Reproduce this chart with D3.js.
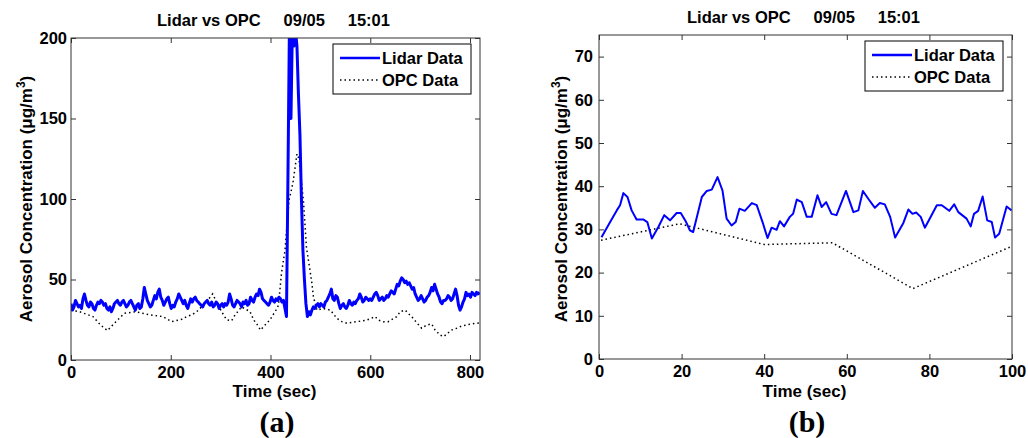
<!DOCTYPE html>
<html>
<head>
<meta charset="utf-8">
<script src="https://cdn.jsdelivr.net/npm/d3@7"></script>
<style>
  body { margin: 0; background: #fff; }
  svg { display: block; }
  text { font-family: Arial, "Liberation Sans", sans-serif; font-weight: bold; fill: #000; }
  .tick text { font-size: 16.5px; }
  .caption { font-family: "Times New Roman", "Liberation Serif", serif; font-size: 30px; }
</style>
</head>
<body>
<svg id="chart" width="1028" height="438"></svg>
<script>
// ---- panel (a): full run, lidar sampled every 3 sec ----
var lidarStepA = 3;
var lidarA = [
  35, 31, 33, 37, 35, 33, 34, 32, 38, 41,
  37, 34, 33, 36, 35, 32, 31, 34, 36, 35,
  37, 36, 34, 35, 32, 31, 33, 30, 32, 35,
  36, 37, 35, 34, 36, 37, 35, 33, 34, 36,
  37, 35, 33, 31, 34, 35, 32, 33, 38, 45,
  41, 37, 35, 33, 34, 37, 40, 38, 42, 44,
  39, 37, 34, 36, 38, 39, 35, 32, 34, 33,
  36, 38, 41, 39, 37, 35, 37, 34, 32, 35,
  38, 36, 38, 39, 37, 36, 35, 34, 33, 35,
  36, 37, 35, 34, 36, 33, 34, 36, 35, 32,
  34, 35, 33, 35, 34, 36, 41, 38, 34, 33,
  35, 37, 36, 35, 33, 36, 35, 37, 34, 35,
  39, 37, 36, 39, 41, 40, 44, 42, 38, 37,
  36, 35, 34, 36, 39, 37, 36, 38, 37, 39,
  38, 36, 37, 32, 27, 115, 210, 150, 210, 195,
  205, 195, 165, 140, 100, 68, 50, 35, 27, 30,
  28, 31, 33, 32, 34, 35, 33, 35, 34, 33,
  36, 37, 39, 41, 44, 38, 37, 40, 39, 35,
  32, 34, 35, 33, 32, 34, 37, 35, 34, 36,
  35, 37, 38, 41, 39, 36, 37, 39, 38, 37,
  38, 37, 39, 41, 42, 40, 37, 38, 39, 37,
  38, 40, 39, 41, 43, 42, 41, 44, 47, 46,
  49, 51, 50, 48, 49, 47, 48, 46, 44, 45,
  41, 39, 37, 38, 40, 38, 36, 37, 39, 40,
  42, 45, 43, 47, 44, 41, 39, 36, 35, 37,
  37, 38, 40, 39, 37, 38, 41, 44, 40, 34,
  31, 33, 36, 38, 42, 40, 41, 39, 42, 41,
  40, 42, 41, 42
];
var opcTimeA = [0, 17, 44, 60, 73, 90, 107, 130, 158, 184, 202, 222, 232, 242, 252, 265, 279, 284, 292,
  302, 312, 322, 329, 342, 359, 366, 374, 380, 389, 399, 411, 416, 422, 429, 437, 445, 453, 457,
  466, 472, 479, 483, 486, 493, 506, 520, 533, 543, 553, 573, 593, 610, 616, 626, 636, 653, 660,
  670, 676, 686, 693, 703, 713, 723, 730, 740, 747, 763, 773, 783, 803, 813, 820];
var opcValA = [31, 30, 27, 21.5, 18.3, 23.8, 29, 30, 28, 27, 23.8, 25.3, 27, 28, 30, 34, 39, 41, 36,
  30, 25, 24.4, 28, 33, 30, 25, 21.7, 18.6, 21.7, 25, 31, 34, 54, 68, 99, 110, 128, 125,
  99, 70, 56, 47.6, 39.3, 31, 32, 31, 25.9, 23.8, 22.8, 23.8, 24.8, 26.9, 24.8, 23.8, 23.8, 26.9, 30,
  31, 29, 25.9, 23.2, 19.7, 21.7, 22.4, 18.6, 15.5, 14.5, 18.6, 19.7, 21.1, 22.4, 22.8, 23];

// ---- panel (b): first 100 sec ----
var lidarTimeB = [0.6, 2.7, 4.3, 5.1, 5.9, 6.9, 7.9, 9.1, 10.7, 11.7, 12.8, 14.4, 15.8, 17.2, 18.8, 19.8,
  21.1, 22.0, 22.8, 24.9, 26.1, 27.3, 28.7, 29.9, 30.9, 32.1, 33.1, 34.0, 35.3, 37.0, 38.2, 39.6,
  40.8, 41.8, 43.0, 43.8, 44.8, 46.2, 47.0, 47.9, 49.1, 50.3, 51.5, 52.9, 53.9, 55.0, 56.3, 57.5,
  59.8, 61.6, 62.8, 63.9, 65.2, 66.8, 68.0, 69.2, 70.5, 71.7, 73.7, 74.9, 75.9, 76.8, 77.9, 78.9,
  80.1, 81.8, 83.0, 84.8, 86.0, 87.0, 89.0, 90.0, 90.8, 91.8, 92.9, 94.0, 95.1, 95.9, 96.9, 98.7, 99.9];
var lidarValB = [28.2, 31.7, 34.4, 35.6, 38.4, 37.5, 34.4, 32.3, 32.3, 31.7, 27.9, 30.6, 33.3, 32.1, 33.8, 33.8,
  31.7, 29.8, 29.4, 37.5, 38.9, 39.2, 42.1, 39.0, 32.5, 30.9, 31.7, 34.8, 34.3, 36.1, 35.6, 31.7,
  28.0, 30.4, 29.9, 31.9, 30.7, 32.9, 33.6, 36.9, 36.3, 32.9, 32.9, 37.9, 35.2, 36.3, 33.6, 33.3,
  38.9, 34.0, 34.4, 38.9, 37.1, 35.0, 36.1, 35.8, 32.9, 28.1, 31.5, 34.6, 33.6, 33.9, 32.9, 30.4,
  32.5, 35.6, 35.6, 34.3, 35.8, 34.0, 32.5, 30.7, 33.6, 34.3, 37.6, 32.1, 31.7, 28.1, 29.0, 35.3, 34.4];
var opcTimeB = [0.5, 19.5, 40, 56.5, 76, 100];
var opcValB = [27.5, 31.3, 26.5, 26.9, 16.3, 26.1];

var xTicksA = [0, 200, 400, 600, 800], yTicksA = [0, 50, 100, 150, 200];
var xTicksB = [0, 20, 40, 60, 80, 100], yTicksB = [0, 10, 20, 30, 40, 50, 60, 70];
var titleText = "Lidar vs OPC     09/05     15:01";
var seriesNames = ["Lidar Data", "OPC Data"];

var svg = d3.select("#chart");

function drawPanel(p) {
  var x = d3.scaleLinear().domain([0, p.xMax]).range([p.left, p.right]);
  var y = d3.scaleLinear().domain([0, p.yMax]).range([p.bottom, p.top]);
  var g = svg.append("g");

  g.append("clipPath").attr("id", "clip-" + p.id)
    .append("rect")
      .attr("x", p.left).attr("y", p.top)
      .attr("width", p.right - p.left).attr("height", p.bottom - p.top);

  // ticks point inwards, on all four sides like matlab's box
  g.append("g").attr("transform", "translate(0," + p.bottom + ")")
    .call(d3.axisBottom(x).tickValues(p.xTicks).tickSizeInner(-5).tickSizeOuter(0).tickPadding(6));
  g.append("g").attr("transform", "translate(0," + p.top + ")")
    .call(d3.axisTop(x).tickValues(p.xTicks).tickSizeInner(-5).tickSizeOuter(0).tickFormat(""));
  g.append("g").attr("transform", "translate(" + p.left + ",0)")
    .call(d3.axisLeft(y).tickValues(p.yTicks).tickSizeInner(-5).tickSizeOuter(0).tickPadding(p.yPad));
  g.append("g").attr("transform", "translate(" + p.right + ",0)")
    .call(d3.axisRight(y).tickValues(p.yTicks).tickSizeInner(-5).tickSizeOuter(0).tickFormat(""));
  g.selectAll(".domain").remove();
  g.selectAll(".tick line").attr("stroke", "#333");

  var line = d3.line().x(function(d) { return x(d[0]); }).y(function(d) { return y(d[1]); });
  var plot = g.append("g").attr("clip-path", "url(#clip-" + p.id + ")");
  plot.append("path").datum(p.opc)
    .attr("d", line).attr("fill", "none")
    .attr("stroke", "#000").attr("stroke-width", 1.5).attr("stroke-dasharray", "1.5,3");
  plot.append("path").datum(p.lidar)
    .attr("d", line).attr("fill", "none")
    .attr("stroke", "#0000ff").attr("stroke-width", p.lidarWidth).attr("stroke-linejoin", "round");

  g.append("rect")
    .attr("x", p.left).attr("y", p.top)
    .attr("width", p.right - p.left).attr("height", p.bottom - p.top)
    .attr("fill", "none").attr("stroke", "#333").attr("stroke-width", 1);

  // labels
  var cx = (p.left + p.right) / 2;
  g.append("text").attr("x", cx - 2).attr("y", p.top - 12)
    .attr("text-anchor", "middle").attr("font-size", 16.5)
    .style("white-space", "pre").text(titleText);
  g.append("text").attr("x", cx - 1).attr("y", 397)
    .attr("text-anchor", "middle").attr("font-size", 17).text("Time (sec)");
  var yl = g.append("text")
    .attr("transform", "translate(" + p.yLabelX + ",199) rotate(-90)")
    .attr("text-anchor", "middle").attr("font-size", 17);
  yl.append("tspan").text("Aerosol Concentration (\u03bcg/m");
  yl.append("tspan").attr("font-size", 12).attr("dy", -7).text("3");
  yl.append("tspan").attr("dy", 7).text(")");
  g.append("text").attr("class", "caption")
    .attr("x", p.captionX).attr("y", 432).attr("text-anchor", "middle").text(p.caption);

  // legend
  var lg = g.append("g").attr("transform", "translate(" + (p.right - 9 - 138) + "," + (p.top + 6) + ")");
  lg.append("rect").attr("width", 138).attr("height", 50)
    .attr("fill", "#fff").attr("stroke", "#000").attr("stroke-width", 1);
  var rows = lg.selectAll("g.row").data(seriesNames).enter().append("g")
    .attr("class", "row")
    .attr("transform", function(d, i) { return "translate(0," + (14 + i * 22) + ")"; });
  rows.append("line").attr("x1", 7).attr("x2", 47)
    .attr("stroke", function(d, i) { return i === 0 ? "#0000ff" : "#000"; })
    .attr("stroke-width", function(d, i) { return i === 0 ? 2.5 : 1.5; })
    .attr("stroke-dasharray", function(d, i) { return i === 0 ? null : "1.5,3"; });
  rows.append("text").attr("x", 49).attr("y", 6).attr("font-size", 16.5).text(function(d) { return d; });
}

drawPanel({
  id: "a", left: 71, right: 480, top: 38, bottom: 360,
  xMax: 820, yMax: 200, xTicks: xTicksA, yTicks: yTicksA, yPad: 4,
  lidar: lidarA.map(function(v, i) { return [i * lidarStepA, v]; }),
  opc: opcTimeA.map(function(t, i) { return [t, opcValA[i]]; }),
  lidarWidth: 3, yLabelX: 32, caption: "(a)", captionX: 277
});
drawPanel({
  id: "b", left: 599, right: 1012, top: 35, bottom: 359,
  xMax: 100, yMax: 75, xTicks: xTicksB, yTicks: yTicksB, yPad: 6,
  lidar: lidarTimeB.map(function(t, i) { return [t, lidarValB[i]]; }),
  opc: opcTimeB.map(function(t, i) { return [t, opcValB[i]]; }),
  lidarWidth: 2, yLabelX: 567, caption: "(b)", captionX: 807
});
</script>
</body>
</html>
